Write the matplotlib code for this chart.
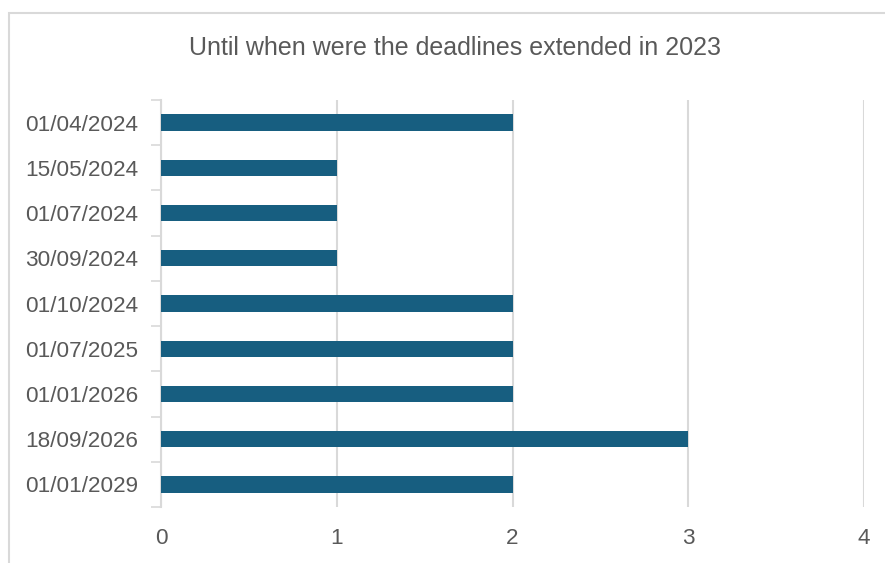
import matplotlib
matplotlib.use("Agg")
import matplotlib.pyplot as plt
from matplotlib.patches import Rectangle
import numpy as np

categories = ["01/04/2024", "15/05/2024", "01/07/2024", "30/09/2024", "01/10/2024",
              "01/07/2025", "01/01/2026", "18/09/2026", "01/01/2029"]
values = [2, 1, 1, 1, 2, 2, 2, 3, 2]
x_ticks = [0, 1, 2, 3, 4]
title = "Until when were the deadlines extended in 2023"

bar_color = "#175E80"
grid_color = "#D9D9D9"
text_color = "#595959"

fig = plt.figure(figsize=(8.85, 5.63), dpi=100)
fig.patches.append(Rectangle((9/885, -0.1), 1.2, 1 - 13/563 + 0.1, transform=fig.transFigure,
                             fill=False, edgecolor=grid_color, linewidth=1.5))

ax = fig.add_axes([161/885, 1 - 507/563, (864 - 161)/885, (507 - 100)/563])
y = np.arange(len(categories))
ax.barh(y, values, height=0.36, color=bar_color, zorder=3)
ax.set_ylim(len(categories) - 0.5, -0.5)
ax.set_xlim(0, 4)
ax.set_xticks(x_ticks)
ax.set_xticklabels([str(t) for t in x_ticks])
ax.set_yticks(y)
ax.set_yticklabels(categories)
ax.set_yticks(np.arange(-0.5, len(categories), 1), minor=True)
ax.tick_params(axis="y", which="major", length=0, pad=16.5, labelsize=16.2, labelcolor=text_color)
ax.tick_params(axis="y", which="minor", length=7, width=1.2, color=grid_color)
ax.tick_params(axis="x", length=0, pad=15, labelsize=16.2, labelcolor=text_color)
for lab in ax.get_yticklabels() + ax.get_xticklabels():
    lab.set_family(["Liberation Sans", "DejaVu Sans"])
for s in ["top", "right", "bottom"]:
    ax.spines[s].set_visible(False)
ax.spines["left"].set_color(grid_color)
ax.spines["left"].set_linewidth(1.5)
ax.xaxis.grid(True, color=grid_color, linewidth=1.5, zorder=0)
ax.set_axisbelow(True)

fig.text(455/885, 1 - 48/563, title, ha="center", va="center", fontsize=18,
         color=text_color, family=["Liberation Sans Narrow", "Liberation Sans", "DejaVu Sans"])

fig.savefig("out.png", dpi=100)
